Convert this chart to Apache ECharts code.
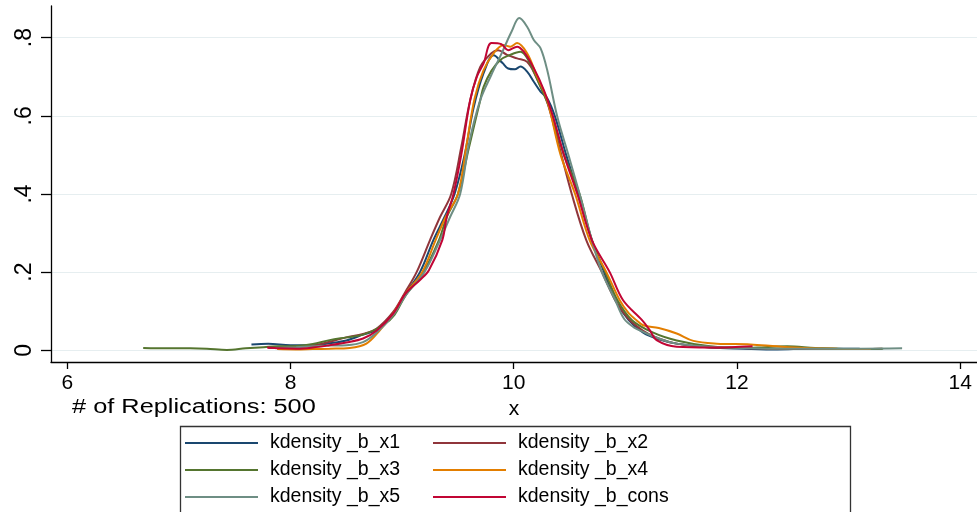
<!DOCTYPE html>
<html><head><meta charset="utf-8">
<script src="https://cdn.jsdelivr.net/npm/echarts@6/dist/echarts.min.js"></script>
<style>html,body{margin:0;padding:0;background:#fff}#c{width:977px;height:512px}</style>
</head><body><div id="c"></div>
<script>
// ---- data ----
const seriesNames = ['kdensity _b_x1','kdensity _b_x2','kdensity _b_x3','kdensity _b_x4','kdensity _b_x5','kdensity _b_cons'];
const xTicks = [6, 8, 10, 12, 14];
const yTicks = [0, 0.2, 0.4, 0.6, 0.8];
const noteText = '# of Replications: 500';

const x1X = [7.65,7.80,8.00,8.20,8.35,8.50,8.65,8.77,8.92,9.03,9.16,9.28,9.38,9.47,9.56,9.64,9.73,9.82,9.90,9.95,10.01,10.06,10.12,10.18,10.24,10.30,10.37,10.47,10.58,10.70,10.81,10.91,11.03,11.16,11.30,11.46,11.76,12.06,12.36,12.65,12.95,13.10];
const x1Y = [0.015,0.017,0.013,0.013,0.018,0.025,0.040,0.052,0.094,0.145,0.200,0.282,0.341,0.400,0.500,0.620,0.709,0.755,0.735,0.721,0.719,0.726,0.713,0.687,0.662,0.645,0.598,0.500,0.400,0.282,0.200,0.128,0.077,0.045,0.028,0.017,0.007,0.004,0.002,0.004,0.004,0.004];

const x2X = [7.80,8.00,8.20,8.35,8.50,8.65,8.77,8.92,9.03,9.13,9.25,9.34,9.44,9.53,9.61,9.70,9.80,9.86,9.94,10.03,10.12,10.20,10.30,10.40,10.52,10.65,10.79,10.91,11.03,11.16,11.30,11.46,11.76,12.06,12.36,12.70,13.00,13.30];
const x2Y = [0.006,0.007,0.012,0.022,0.033,0.042,0.055,0.098,0.150,0.200,0.282,0.341,0.400,0.520,0.640,0.725,0.760,0.768,0.756,0.747,0.738,0.700,0.635,0.530,0.400,0.282,0.200,0.128,0.080,0.050,0.030,0.017,0.007,0.006,0.004,0.004,0.003,0.004];

const x3X = [6.68,6.90,7.10,7.25,7.43,7.60,7.76,7.90,8.06,8.20,8.35,8.50,8.65,8.83,8.93,9.03,9.19,9.33,9.40,9.50,9.60,9.70,9.73,9.80,9.88,9.96,10.06,10.13,10.24,10.32,10.45,10.59,10.70,10.82,10.93,11.06,11.25,11.46,11.76,12.06,12.25,12.45,12.70,13.00,13.31];
const x3Y = [0.006,0.005,0.005,0.004,0.001,0.005,0.008,0.010,0.011,0.016,0.026,0.033,0.040,0.064,0.090,0.140,0.200,0.282,0.341,0.400,0.520,0.640,0.674,0.715,0.743,0.755,0.764,0.743,0.674,0.620,0.500,0.400,0.282,0.200,0.128,0.077,0.045,0.025,0.010,0.006,0.008,0.010,0.006,0.003,0.004];

const x4X = [7.88,8.05,8.20,8.35,8.53,8.68,8.80,8.92,9.03,9.18,9.30,9.39,9.50,9.58,9.65,9.73,9.82,9.91,9.97,10.03,10.12,10.21,10.30,10.42,10.55,10.68,10.83,10.95,11.03,11.10,11.16,11.30,11.46,11.61,11.82,12.12,12.36,12.60,12.90,13.20];
const x4Y = [0.003,0.002,0.003,0.004,0.006,0.017,0.051,0.094,0.145,0.200,0.282,0.341,0.400,0.530,0.645,0.717,0.760,0.781,0.777,0.786,0.760,0.700,0.640,0.500,0.400,0.282,0.200,0.128,0.095,0.077,0.064,0.057,0.043,0.024,0.017,0.015,0.010,0.006,0.004,0.003];

const x5X = [7.85,8.05,8.20,8.35,8.50,8.65,8.77,8.92,9.03,9.20,9.34,9.43,9.52,9.60,9.70,9.80,9.90,9.98,10.05,10.12,10.18,10.24,10.30,10.39,10.49,10.59,10.70,10.79,10.91,10.99,11.08,11.16,11.30,11.46,11.76,12.06,12.40,12.80,13.10,13.48];
const x5Y = [0.006,0.008,0.010,0.012,0.013,0.021,0.045,0.090,0.140,0.200,0.282,0.341,0.400,0.530,0.640,0.705,0.765,0.815,0.850,0.828,0.794,0.773,0.717,0.598,0.500,0.400,0.282,0.200,0.128,0.080,0.058,0.047,0.030,0.017,0.009,0.006,0.004,0.004,0.004,0.005];

const consX = [7.79,7.90,8.06,8.20,8.35,8.50,8.65,8.77,8.92,9.03,9.16,9.24,9.36,9.40,9.46,9.53,9.61,9.67,9.73,9.80,9.89,9.95,10.03,10.09,10.18,10.27,10.35,10.45,10.57,10.70,10.86,10.98,11.15,11.22,11.28,11.46,11.76,11.95,12.14];
const consY = [0.007,0.005,0.004,0.007,0.013,0.020,0.030,0.050,0.094,0.145,0.180,0.205,0.282,0.341,0.400,0.500,0.640,0.700,0.734,0.786,0.783,0.768,0.777,0.764,0.722,0.666,0.600,0.500,0.400,0.282,0.200,0.128,0.077,0.051,0.026,0.009,0.007,0.008,0.010];

// ---- styling ----
const colors = ['#1a476f','#90353b','#55752f','#e37e00','#6e8e84','#c10534'];
const FONT = '"Liberation Sans", Arial, sans-serif';
const xs = [x1X,x2X,x3X,x4X,x5X,consX];
const ys = [x1Y,x2Y,x3Y,x4Y,x5Y,consY];
const zip = (a,b) => a.map((v,i)=>[v,b[i]]);

const chart = echarts.init(document.getElementById('c'), null, {renderer:'canvas'});
const legendCommon = {
  orient:'vertical', padding:0, itemGap:7, itemWidth:73, itemHeight:2,
  icon:'rect',
  textStyle:{fontFamily:FONT, fontSize:19.5, color:'#000', padding:[0,0,0,7]},
  selectedMode:false
};
chart.setOption({
  animation:false,
  backgroundColor:'#fff',
  color:colors,
  grid:{left:51, right:0, top:6, bottom:150, containLabel:false},
  xAxis:{
    type:'value', min:5.854, max:14.151,
    axisLine:{show:true, onZero:false, lineStyle:{color:'#000', width:1.3}},
    axisTick:{show:true, customValues:xTicks, length:7, lineStyle:{color:'#000', width:1.3}},
    axisLabel:{customValues:xTicks, fontFamily:FONT, fontSize:21, color:'#000', margin:11,
      formatter:v=>String(v)},
    splitLine:{show:false},
    name:'x', nameLocation:'middle', nameGap:22,
    nameTextStyle:{fontFamily:FONT, fontSize:21, color:'#000'}
  },
  yAxis:{
    type:'value', min:-0.03, max:0.881,
    axisLine:{show:true, onZero:false, lineStyle:{color:'#000', width:1.3}},
    axisTick:{show:true, customValues:yTicks, length:10, lineStyle:{color:'#000', width:1.3}},
    axisLabel:{customValues:yTicks, rotate:90, fontFamily:FONT, fontSize:23, color:'#000', margin:15,
      formatter:v=> v===0 ? '0' : '.' + Math.round(v*10)},
    splitLine:{show:true, lineStyle:{color:'#e6eef0', width:1.2}}
  },
  legend:[
    Object.assign({}, legendCommon, {left:185, top:433, data:[seriesNames[0],seriesNames[2],seriesNames[4]]}),
    Object.assign({}, legendCommon, {left:433, top:433, data:[seriesNames[1],seriesNames[3],seriesNames[5]]})
  ],
  graphic:[
    {type:'rect', left:178, top:424, shape:{width:670, height:120}, silent:true,
      style:{fill:'none', stroke:'#333', lineWidth:1.3}},
    {type:'text', x:72, y:408, scaleX:1.3, silent:true,
      style:{text:noteText, font:'19.5px "Liberation Sans", Arial, sans-serif', fill:'#000', verticalAlign:'middle', align:'left'}}
  ],
  series: seriesNames.map((n,i)=>({
    name:n, type:'line', data:zip(xs[i], ys[i]), showSymbol:false, symbol:'none',
    smooth:0.35, lineStyle:{width:2, color:colors[i]}, itemStyle:{color:colors[i]},
    emphasis:{disabled:true}
  }))
});
</script></body></html>
